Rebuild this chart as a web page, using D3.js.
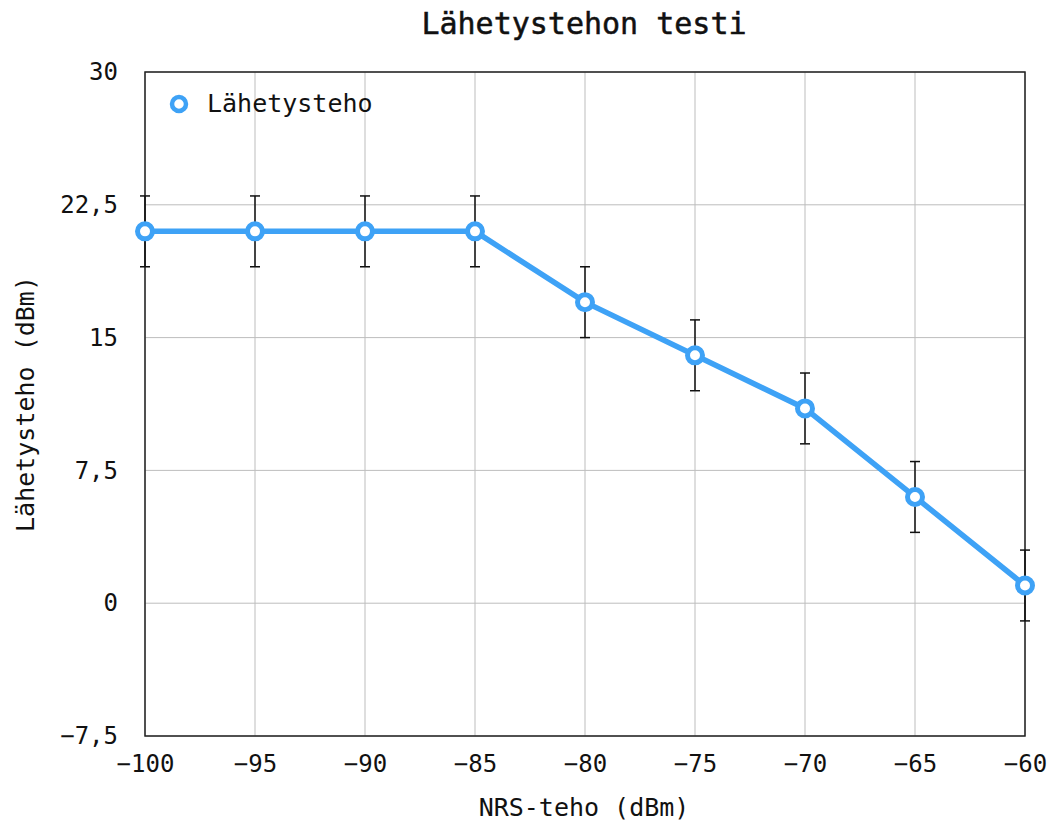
<!DOCTYPE html>
<html>
<head>
<meta charset="utf-8">
<script src="https://cdn.jsdelivr.net/npm/d3@7"></script>
<style>
  body { margin: 0; background: #fff; }
  text { font-family: "DejaVu Sans Mono", monospace; fill: #111; }
</style>
</head>
<body>
<div id="container"></div>
<script>
/* DATA */
const nrsPower = [-100, -95, -90, -85, -80, -75, -70, -65, -60];
const txPower = [21, 21, 21, 21, 17, 14, 11, 6, 1];
const txError = [2, 2, 2, 2, 2, 2, 2, 2, 2];
const xTicks = [-100, -95, -90, -85, -80, -75, -70, -65, -60];
const yTicks = [-7.5, 0, 7.5, 15, 22.5, 30];

/* CONSTANTS */
const width = 1051;
const height = 825;
const margin = { top: 72, right: 26, bottom: 89, left: 145 };

const svg = d3.select("#container")
  .append("svg")
  .attr("width", width)
  .attr("height", height);

/* SCALES */
const xScale = d3.scaleLinear()
  .domain([-100, -60])
  .range([margin.left, width - margin.right]);

const yScale = d3.scaleLinear()
  .domain([-7.5, 30])
  .range([height - margin.bottom, margin.top]);

const fmt = d => String(d).replace(".", ",").replace("-", "\u2212");

// grid
svg.append("g")
  .selectAll("line")
  .data(xTicks)
  .join("line")
  .attr("x1", d => xScale(d)).attr("x2", d => xScale(d))
  .attr("y1", margin.top).attr("y2", height - margin.bottom)
  .attr("stroke", "#bdbdbd").attr("stroke-width", 1);

svg.append("g")
  .selectAll("line")
  .data(yTicks)
  .join("line")
  .attr("x1", margin.left).attr("x2", width - margin.right)
  .attr("y1", d => yScale(d)).attr("y2", d => yScale(d))
  .attr("stroke", "#bdbdbd").attr("stroke-width", 1);

// X axis
const xAxis = svg.append("g")
  .attr("transform", `translate(0,${height - margin.bottom})`)
  .call(d3.axisBottom(xScale).tickValues(xTicks).tickSize(0).tickPadding(19).tickFormat(fmt));
xAxis.select(".domain").remove();
xAxis.selectAll("text").style("font-size", "24px").style("font-family", "DejaVu Sans Mono");

// Y axis
const yAxis = svg.append("g")
  .attr("transform", `translate(${margin.left},0)`)
  .call(d3.axisLeft(yScale).tickValues(yTicks).tickSize(0).tickPadding(27).tickFormat(fmt));
yAxis.select(".domain").remove();
yAxis.selectAll("text").style("font-size", "24px").style("font-family", "DejaVu Sans Mono");

// frame
svg.append("rect")
  .attr("x", margin.left).attr("y", margin.top)
  .attr("width", width - margin.left - margin.right)
  .attr("height", height - margin.top - margin.bottom)
  .attr("fill", "none").attr("stroke", "#222").attr("stroke-width", 1.5);

// titles
svg.append("text")
  .attr("x", 584)
  .attr("y", 34)
  .attr("text-anchor", "middle")
  .style("font-size", "30px")
  .style("stroke", "#111")
  .style("stroke-width", 0.5)
  .text("Lähetystehon testi");

svg.append("text")
  .attr("x", 584)
  .attr("y", 816)
  .attr("text-anchor", "middle")
  .style("font-size", "25px")
  .text("NRS-teho (dBm)");

svg.append("text")
  .attr("transform", `translate(34,${(margin.top + height - margin.bottom) / 2}) rotate(-90)`)
  .attr("text-anchor", "middle")
  .style("font-size", "25px")
  .text("Lähetysteho (dBm)");

const points = nrsPower.map((x, i) => ({ x, y: txPower[i], e: txError[i] }));

// error bars
const err = svg.append("g").attr("stroke", "#111").attr("stroke-width", 1.5);
err.selectAll(".stem")
  .data(points)
  .join("line")
  .attr("x1", d => xScale(d.x)).attr("x2", d => xScale(d.x))
  .attr("y1", d => yScale(d.y - d.e)).attr("y2", d => yScale(d.y + d.e));
err.selectAll(".capTop")
  .data(points)
  .join("line")
  .attr("x1", d => xScale(d.x) - 5).attr("x2", d => xScale(d.x) + 5)
  .attr("y1", d => yScale(d.y + d.e)).attr("y2", d => yScale(d.y + d.e));
err.selectAll(".capBot")
  .data(points)
  .join("line")
  .attr("x1", d => xScale(d.x) - 5).attr("x2", d => xScale(d.x) + 5)
  .attr("y1", d => yScale(d.y - d.e)).attr("y2", d => yScale(d.y - d.e));

// line
const blue = "#3ea2f6";
svg.append("path")
  .datum(points)
  .attr("fill", "none")
  .attr("stroke", blue)
  .attr("stroke-width", 5.5)
  .attr("d", d3.line().x(d => xScale(d.x)).y(d => yScale(d.y)));

svg.selectAll(".dot")
  .data(points)
  .join("circle")
  .attr("class", "dot")
  .attr("cx", d => xScale(d.x))
  .attr("cy", d => yScale(d.y))
  .attr("r", 7.5)
  .attr("fill", "#fff")
  .attr("stroke", blue)
  .attr("stroke-width", 5);

// legend
svg.append("circle")
  .attr("cx", 179).attr("cy", 104).attr("r", 7)
  .attr("fill", "#fff").attr("stroke", blue).attr("stroke-width", 4.5);
svg.append("text")
  .attr("x", 207).attr("y", 112)
  .style("font-size", "25px")
  .text("Lähetysteho");
</script>
</body>
</html>
